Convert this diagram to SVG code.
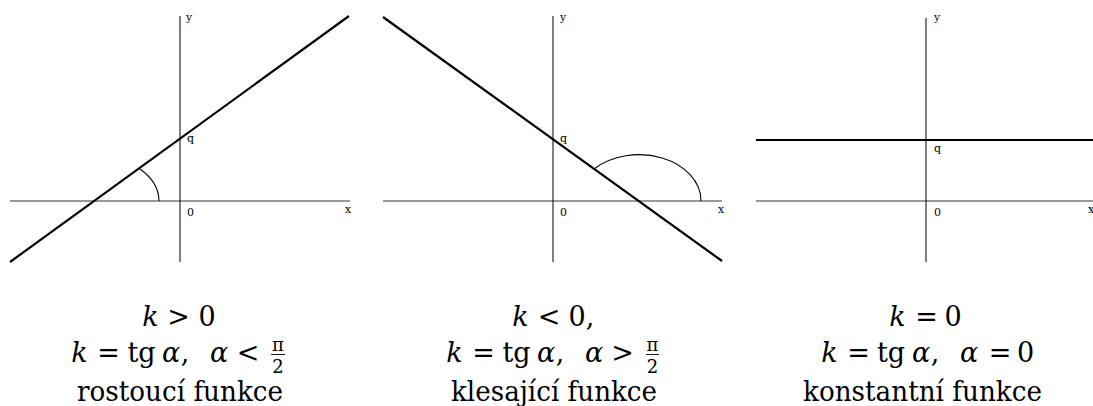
<svg xmlns="http://www.w3.org/2000/svg" width="1093" height="406" viewBox="0 0 1093 406">
<style>
.ax{stroke:#333;stroke-width:1;fill:none}
.yx{stroke:#000;stroke-width:1;fill:none}
.ln{stroke:#000;stroke-width:2.2;fill:none}
.arc{stroke:#000;stroke-width:1.1;fill:none}
text{font-family:'DejaVu Serif',serif;fill:#000}
.lb{font-size:11px}
.m{font-size:27px;text-anchor:middle}
.i{font-style:italic}
.fr{font-size:18px;text-anchor:middle}
.t{font-size:27px;text-anchor:middle}
.bar{stroke:#000;stroke-width:0.9}
</style>
<rect width="1093" height="406" fill="#fff"/>
<g id="panel1">
<line class="ax" x1="10" y1="201" x2="350" y2="201"/>
<line class="yx" x1="180" y1="16" x2="180" y2="262"/>
<line class="ln" x1="10" y1="262" x2="349" y2="16"/>
<path class="arc" d="M140,169 A66,46 0 0,1 159,201"/>
<text class="lb" x="186" y="21">y</text>
<text class="lb" x="187" y="142">q</text>
<text class="lb" x="187" y="216">0</text>
<text class="lb" x="345" y="213">x</text>
<text class="m"><tspan class="i" x="150.5" y="326">k</tspan><tspan x="178.5">&gt;</tspan><tspan x="207">0</tspan></text>
<text class="m" y="362"><tspan class="i" x="79.5">k</tspan><tspan x="108.5">=</tspan><tspan x="141.5">tg</tspan><tspan class="i" x="171">α</tspan><tspan x="185">,</tspan><tspan class="i" x="219">α</tspan><tspan x="248">&lt;</tspan></text>
<text class="fr" x="278" y="351">π</text>
<line class="bar" x1="271" y1="354.5" x2="285" y2="354.5"/>
<text class="fr" x="278" y="373">2</text>
<text class="t" x="180" y="401" textLength="206" lengthAdjust="spacingAndGlyphs">rostoucí funkce</text>
</g>
<g id="panel2">
<line class="ax" x1="383" y1="201" x2="722" y2="201"/>
<line class="yx" x1="553" y1="16" x2="553" y2="262"/>
<line class="ln" x1="383" y1="17" x2="722" y2="261"/>
<path class="arc" d="M594,169 A62,46 0 0,1 701,201"/>
<text class="lb" x="560" y="21">y</text>
<text class="lb" x="560" y="142">q</text>
<text class="lb" x="560" y="216">0</text>
<text class="lb" x="718" y="213">x</text>
<text class="m"><tspan class="i" x="520.5" y="326">k</tspan><tspan x="549">&lt;</tspan><tspan x="577">0</tspan><tspan x="590">,</tspan></text>
<text class="m" y="362"><tspan class="i" x="454.5">k</tspan><tspan x="483.5">=</tspan><tspan x="516.5">tg</tspan><tspan class="i" x="546">α</tspan><tspan x="560">,</tspan><tspan class="i" x="594">α</tspan><tspan x="622.5">&gt;</tspan></text>
<text class="fr" x="652.5" y="351">π</text>
<line class="bar" x1="646" y1="354.5" x2="659" y2="354.5"/>
<text class="fr" x="652.5" y="373">2</text>
<text class="t" x="554" y="401" textLength="206" lengthAdjust="spacingAndGlyphs">klesající funkce</text>
</g>
<g id="panel3">
<line class="ax" x1="756" y1="201" x2="1093" y2="201"/>
<line class="yx" x1="926" y1="18" x2="926" y2="262"/>
<line class="ln" x1="756" y1="140" x2="1093" y2="140"/>
<text class="lb" x="934" y="21">y</text>
<text class="lb" x="934" y="152">q</text>
<text class="lb" x="934" y="216">0</text>
<text class="lb" x="1088" y="213">x</text>
<text class="m"><tspan class="i" x="897.5" y="326">k</tspan><tspan x="926.5">=</tspan><tspan x="953">0</tspan></text>
<text class="m" y="362"><tspan class="i" x="829.5">k</tspan><tspan x="858.5">=</tspan><tspan x="891">tg</tspan><tspan class="i" x="921">α</tspan><tspan x="935">,</tspan><tspan class="i" x="969">α</tspan><tspan x="1000">=</tspan><tspan x="1025.5">0</tspan></text>
<text class="t" x="922.5" y="401" textLength="239" lengthAdjust="spacingAndGlyphs">konstantní funkce</text>
</g>
</svg>
